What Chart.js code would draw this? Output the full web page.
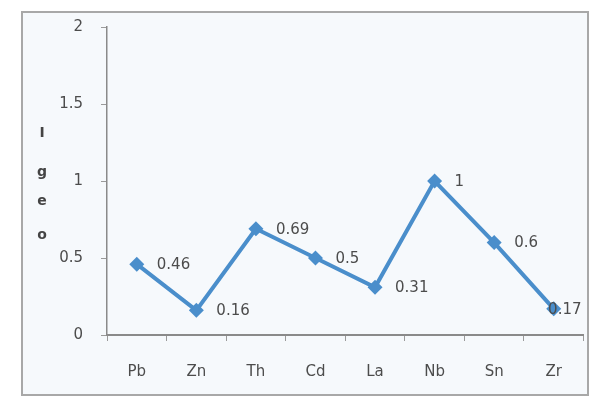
<!DOCTYPE html>
<html>
<head>
<meta charset="utf-8">
<script src="https://cdn.jsdelivr.net/npm/chart.js@4"></script>
<style>
  html, body { margin: 0; padding: 0; background: #ffffff; }
  #wrap { width: 591px; height: 398px; position: relative; }
</style>
</head>
<body>
<div id="wrap"><canvas id="c" width="591" height="398"></canvas></div>
<script>
// Igeo values per element
const elements = ['Pb', 'Zn', 'Th', 'Cd', 'La', 'Nb', 'Sn', 'Zr'];
const igeoValues = [0.46, 0.16, 0.69, 0.5, 0.31, 1, 0.6, 0.17];
const yTickValues = [0, 0.5, 1, 1.5, 2];
const axisTitle = 'Igeo';

const FONT = 'DejaVu Sans';
const TEXT = '#4c4c4c';
const BLUE = '#4a8ecb';

// Frame and panel background
const framePlugin = {
  id: 'frame',
  beforeDraw(chart) {
    const ctx = chart.ctx;
    ctx.save();
    ctx.fillStyle = '#f6f9fc';
    ctx.fillRect(22, 12, 566, 383);
    ctx.strokeStyle = '#a8a8a8';
    ctx.lineWidth = 2;
    ctx.strokeRect(22, 12, 566, 383);
    ctx.restore();
  }
};

// Vertical stacked axis title
const titlePlugin = {
  id: 'stackTitle',
  afterDraw(chart) {
    const ctx = chart.ctx;
    ctx.save();
    ctx.fillStyle = '#444';
    ctx.font = 'bold 14px ' + FONT;
    ctx.textAlign = 'center';
    ctx.textBaseline = 'middle';
    const ys = [133, 172, 201, 235];
    axisTitle.split('').forEach((ch, i) => ctx.fillText(ch, 42, ys[i]));
    ctx.restore();
  }
};

// Value labels to the right of each point
const valueLabels = {
  id: 'valueLabels',
  afterDatasetsDraw(chart) {
    const ctx = chart.ctx;
    const meta = chart.getDatasetMeta(0);
    const right = chart.chartArea.right;
    ctx.save();
    ctx.font = '15px ' + FONT;
    ctx.fillStyle = TEXT;
    ctx.textAlign = 'left';
    ctx.textBaseline = 'middle';
    meta.data.forEach((pt, i) => {
      const txt = String(igeoValues[i]);
      const w = ctx.measureText(txt).width;
      let x = pt.x + 20;
      if (x + w > right - 2) x = right - 2 - w;
      ctx.fillText(txt, x, pt.y + 1);
    });
    ctx.restore();
  }
};

new Chart(document.getElementById('c'), {
  type: 'line',
  data: {
    labels: elements,
    datasets: [{
      data: igeoValues,
      borderColor: BLUE,
      backgroundColor: BLUE,
      borderWidth: 4,
      pointStyle: 'rectRot',
      pointRadius: 7.5,
      pointBackgroundColor: BLUE,
      pointBorderColor: BLUE,
      pointBorderWidth: 0,
      tension: 0,
      fill: false
    }]
  },
  options: {
    responsive: false,
    animation: false,
    devicePixelRatio: 1,
    layout: { padding: { left: 22, top: 27, right: 3, bottom: 3 } },
    plugins: { legend: { display: false }, tooltip: { enabled: false } },
    scales: {
      x: {
        offset: true,
        grid: { offset: true, drawOnChartArea: false, drawTicks: true, tickLength: 6, color: '#9a9a9a', lineWidth: 1 },
        border: { color: '#8a8a8a', width: 2 },
        ticks: { color: TEXT, font: { family: FONT, size: 15 }, padding: 22, maxRotation: 0 },
        afterFit(scale) { scale.height = 60; }
      },
      y: {
        min: 0,
        max: 2,
        afterBuildTicks(scale) { scale.ticks = yTickValues.map(v => ({ value: v })); },
        grid: { drawOnChartArea: false, drawTicks: true, tickLength: 6, color: '#9a9a9a' },
        border: { color: '#8a8a8a', width: 1.5 },
        ticks: {
          color: TEXT,
          font: { family: FONT, size: 15 },
          padding: 18,
          callback: (v) => String(v)
        },
        afterFit(scale) { scale.width = 85; }
      }
    }
  },
  plugins: [framePlugin, titlePlugin, valueLabels]
});
</script>
</body>
</html>
